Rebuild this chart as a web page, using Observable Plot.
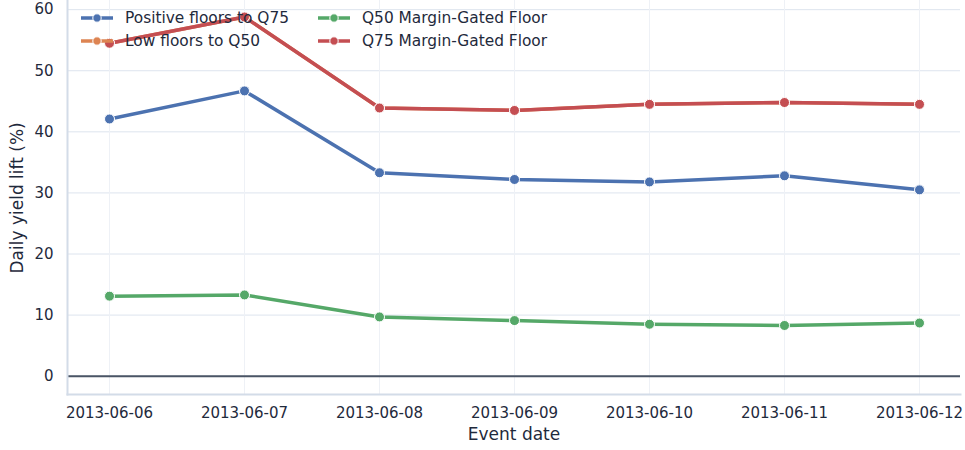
<!DOCTYPE html>
<html><head><meta charset="utf-8">
<script src="https://cdn.jsdelivr.net/npm/d3@7"></script>
<script src="https://cdn.jsdelivr.net/npm/@observablehq/plot@0.6"></script>
<style>
body{margin:0;background:#fff;font-family:"DejaVu Sans",sans-serif;}
#wrap{position:relative;width:965px;height:450px;}
#legend{position:absolute;left:80px;top:8px;font-size:15.4px;color:#1f2a3c;display:grid;grid-template-columns:237px 260px;row-gap:3px;white-space:nowrap;}
.item{display:flex;align-items:center;height:20px;}
.sw{width:34px;height:10px;margin-right:11px;flex:none;}
</style></head>
<body><div id="wrap"><div id="chart"></div><div id="legend"></div></div>
<script>
const dates = ["2013-06-06","2013-06-07","2013-06-08","2013-06-09","2013-06-10","2013-06-11","2013-06-12"];
const seriesNames = ["Positive floors to Q75","Low floors to Q50","Q50 Margin-Gated Floor","Q75 Margin-Gated Floor"];
const seriesColors = ["#4c72b0","#dd8452","#55a868","#c44e52"];
const positiveQ75 = [42.1, 46.7, 33.3, 32.2, 31.8, 32.8, 30.5];
const lowQ50 = [54.5, 58.8, 43.9, 43.5, 44.5, 44.8, 44.5];
const q50Gated = [13.1, 13.3, 9.7, 9.1, 8.5, 8.3, 8.7];
const q75Gated = [54.5, 58.8, 43.9, 43.5, 44.5, 44.8, 44.5];
const yTicks = [0,10,20,30,40,50,60];

const seriesValues = [positiveQ75, lowQ50, q50Gated, q75Gated];
const rows = [];
seriesNames.forEach((s,i)=>dates.forEach((d,j)=>rows.push({series:s,date:d,value:seriesValues[i][j]})));

const chart = Plot.plot({
  width:965, height:450,
  marginLeft:67, marginRight:5, marginTop:0, marginBottom:56,
  style:{fontFamily:"DejaVu Sans, sans-serif", fontSize:"15px", color:"#1f2a3c", background:"#fff"},
  x:{type:"point", domain:dates, padding:0.303, label:null},
  y:{domain:[-3,61.5], label:null},
  color:{domain:seriesNames, range:seriesColors},
  marks:[
    Plot.gridY(yTicks,{stroke:"#dde4ee",strokeOpacity:1,strokeWidth:1}),
    Plot.gridX(dates,{stroke:"#eef1f6",strokeOpacity:1,strokeWidth:1}),
    Plot.ruleY([0],{stroke:"#4a5565",strokeWidth:2}),
    Plot.frame({anchor:"left",stroke:"#d3dce8",strokeWidth:2}),
    Plot.frame({anchor:"bottom",stroke:"#d3dce8",strokeWidth:2}),
    Plot.axisY({ticks:yTicks,tickSize:0,tickPadding:14,fontSize:15,label:null}),
    Plot.axisX({ticks:dates,tickSize:0,tickPadding:13,fontSize:15,label:null}),
    Plot.text(["Daily yield lift (%)"],{frameAnchor:"bottom-left",textAnchor:"start",dx:-45,dy:-121,rotate:-90,fontSize:17,fill:"#1f2a3c"}),
    Plot.text(["Event date"],{frameAnchor:"bottom",dy:45,fontSize:17,fill:"#1f2a3c"}),
    Plot.line(rows,{x:"date",y:"value",z:"series",stroke:"series",strokeWidth:3.5}),
    Plot.dot(rows,{x:"date",y:"value",fill:"series",stroke:"#fff",strokeWidth:1,r:5})
  ]
});
document.getElementById("chart").appendChild(chart);

const order = [0,2,1,3];
const leg = document.getElementById("legend");
order.forEach(i=>{
  const it=document.createElement("div");it.className="item";
  it.innerHTML=`<svg class="sw" viewBox="0 0 34 10"><line x1="1" x2="33" y1="5" y2="5" stroke="${seriesColors[i]}" stroke-width="3.5"/><circle cx="17" cy="5" r="4.2" fill="${seriesColors[i]}" stroke="#fff" stroke-width="1"/></svg><span>${seriesNames[i]}</span>`;
  leg.appendChild(it);
});
</script></body></html>
